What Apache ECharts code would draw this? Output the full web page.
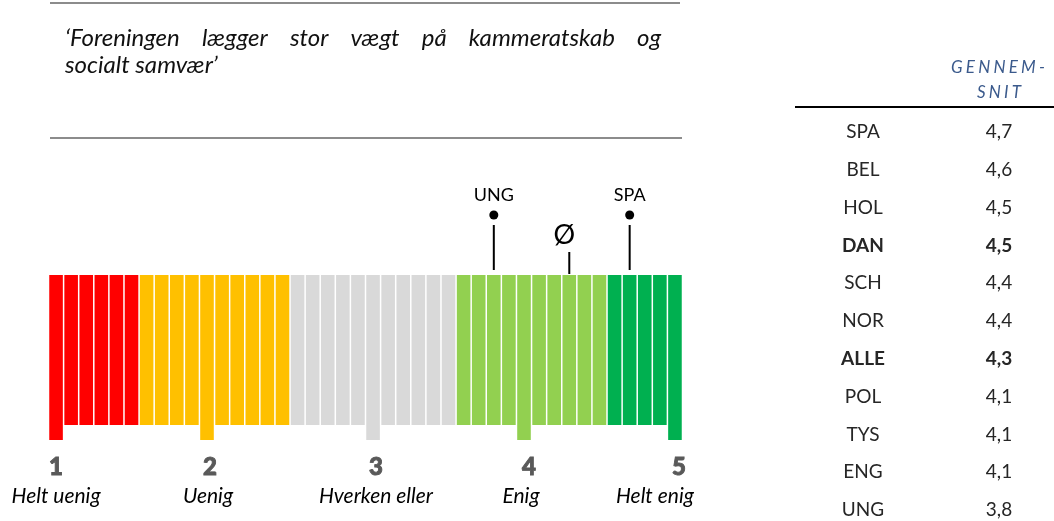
<!DOCTYPE html>
<html><head><meta charset="utf-8">
<script src="https://cdn.jsdelivr.net/npm/echarts@6/dist/echarts.min.js"></script>
<style>html,body{margin:0;padding:0;background:#fff}#c{width:1054px;height:521px}</style>
</head><body><div id="c"></div>
<script>
// ---------- data ----------
const titleLines = ['‘Foreningen lægger stor vægt på kammeratskab og', 'socialt samvær’'];
const scaleValues = [1, 2, 3, 4, 5];
const scaleLabels = ['Helt uenig', 'Uenig', 'Hverken eller', 'Enig', 'Helt enig'];
const segmentColors = ['#FF0000', '#FFC000', '#D9D9D9', '#92D050', '#00B050'];
const segmentCounts = [6, 10, 11, 10, 5];
const tickBars = [0, 10, 21, 31, 41];
const markerNames = ['UNG', 'Ø', 'SPA'];
const markerValues = [3.8, 4.3, 4.7];
const tableHeader = ['GENNEM-', 'SNIT'];
const tableCountries = ['SPA', 'BEL', 'HOL', 'DAN', 'SCH', 'NOR', 'ALLE', 'POL', 'TYS', 'ENG', 'UNG'];
const tableValues = [4.7, 4.6, 4.5, 4.5, 4.4, 4.4, 4.3, 4.1, 4.1, 4.1, 3.8];
const tableBold = ['DAN', 'ALLE'];
const barLength = 10;
const tickExtension = -1;

// ---------- helpers ----------
const FONT = 'Lato, "Open Sans", "DejaVu Sans", sans-serif';
const mctx = document.createElement('canvas').getContext('2d');
function measure(text, font) { mctx.font = font; return mctx.measureText(text).width; }
function valueToBar(v) {
  for (let k = 0; k < scaleValues.length - 1; k++) {
    if (v <= scaleValues[k + 1]) {
      const t = (v - scaleValues[k]) / (scaleValues[k + 1] - scaleValues[k]);
      return tickBars[k] + t * (tickBars[k + 1] - tickBars[k]);
    }
  }
  return tickBars[tickBars.length - 1];
}

const barColors = [];
segmentCounts.forEach((n, s) => { for (let k = 0; k < n; k++) barColors.push(segmentColors[s]); });
const nBars = barColors.length;
const categories = barColors.map((_, i) => String(i));
const mainData = barColors.map(c => ({ value: barLength, itemStyle: { color: c } }));
const extData = barColors.map((c, i) => tickBars.includes(i) ? { value: tickExtension, itemStyle: { color: c } } : '-');

// axis label rich styles with small per-label shifts
const numShift = [0, 3, 3, 5, 4];
const txtShift = [0, 1, 3, -3, -20];
function pad(s) { return s >= 0 ? [0, 0, 0, 2 * s] : [0, -2 * s, 0, 0]; }
const rich = {};
scaleValues.forEach((_, k) => {
  rich['n' + k] = { fontFamily: FONT, fontSize: 24, fontWeight: 900, color: '#595959', textBorderColor: '#595959', textBorderWidth: 0.9, lineHeight: 28, padding: pad(numShift[k]) };
  rich['t' + k] = { fontFamily: FONT, fontSize: 21, fontStyle: 'italic', color: '#000', lineHeight: 30, padding: pad(txtShift[k]) };
});

// ---------- graphics (title, rules, table) ----------
const graphics = [];
graphics.push({ type: 'line', shape: { x1: 50, y1: 3, x2: 680, y2: 3 }, style: { stroke: '#8c8c8c', lineWidth: 2 } });
graphics.push({ type: 'line', shape: { x1: 50, y1: 138, x2: 682, y2: 138 }, style: { stroke: '#8c8c8c', lineWidth: 2 } });

const titleFont = 'italic 24px ' + FONT;
(function () {
  const words = titleLines[0].split(' ');
  const widths = words.map(w => measure(w, titleFont));
  const total = widths.reduce((a, b) => a + b, 0);
  const x0 = 65, x1 = 661;
  const gap = (x1 - x0 - total) / (words.length - 1);
  let x = x0;
  words.forEach((w, i) => {
    graphics.push({ type: 'text', x: x, y: 38, style: { text: w, font: titleFont, fill: '#111', textAlign: 'left', textVerticalAlign: 'middle' } });
    x += widths[i] + gap;
  });
  graphics.push({ type: 'text', x: x0, y: 65, style: { text: titleLines[1], font: titleFont, fill: '#111', textAlign: 'left', textVerticalAlign: 'middle' } });
})();

// spaced header
const headFont = 'italic 17px ' + FONT;
function spaced(text, cx, cy, spacing) {
  const chars = text.split('');
  const ws = chars.map(c => measure(c, headFont));
  const total = ws.reduce((a, b) => a + b, 0) + spacing * (chars.length - 1);
  let x = cx - total / 2;
  chars.forEach((c, i) => {
    graphics.push({ type: 'text', x: x, y: cy, style: { text: c, font: headFont, fill: '#3B5A8C', textAlign: 'left', textVerticalAlign: 'middle' } });
    x += ws[i] + spacing;
  });
}
spaced(tableHeader[0], 998, 68, 3.2);
spaced(tableHeader[1], 999, 93, 3.2);
graphics.push({ type: 'line', shape: { x1: 795, y1: 107, x2: 1054, y2: 107 }, style: { stroke: '#000', lineWidth: 2 } });
tableCountries.forEach((c, i) => {
  const y = 132 + i * 37.8;
  const bold = tableBold.includes(c);
  const f = (bold ? 'bold ' : '') + '19px ' + FONT;
  graphics.push({ type: 'text', x: 863, y: y, style: { text: c, font: f, fill: '#262626', textAlign: 'center', textVerticalAlign: 'middle' } });
  graphics.push({ type: 'text', x: 999, y: y, style: { text: tableValues[i].toFixed(1).replace('.', ','), font: f, fill: '#262626', textAlign: 'center', textVerticalAlign: 'middle' } });
});

// ---------- chart ----------
const chart = echarts.init(document.getElementById('c'));
chart.setOption({
  animation: false,
  backgroundColor: '#fff',
  grid: { left: 48.5, width: 634, top: 170, height: 270 },
  xAxis: [
    {
      type: 'category', data: categories,
      axisLine: { show: false }, axisTick: { show: false },
      axisLabel: {
        interval: (i) => tickBars.includes(i),
        margin: 13,
        formatter: (val) => { const k = tickBars.indexOf(+val); return `{n${k}|${scaleValues[k]}}\n{t${k}|${scaleLabels[k]}}`; },
        rich: rich
      }
    },
    { type: 'value', min: -0.5, max: nBars - 0.5, show: false }
  ],
  yAxis: { type: 'value', min: -1, max: 17, show: false },
  series: [
    { type: 'bar', stack: 's', barWidth: 13.6, data: mainData, silent: true },
    { type: 'bar', stack: 's', barWidth: 13.6, data: extData, silent: true },
    {
      type: 'custom', xAxisIndex: 1, yAxisIndex: 0, silent: true,
      data: markerValues.map(v => [valueToBar(v)]),
      renderItem: (params, api) => {
        const p = api.coord([api.value(0), barLength]);
        const name = markerNames[params.dataIndex];
        if (name === 'Ø') {
          return { type: 'group', children: [
            { type: 'line', shape: { x1: p[0], y1: p[1] - 1, x2: p[0], y2: p[1] - 23 }, style: { stroke: '#000', lineWidth: 2 } },
            { type: 'text', x: p[0] - 5, y: p[1] - 40, style: { text: name, font: '27px ' + FONT, fill: '#000', textAlign: 'center', textVerticalAlign: 'middle' } }
          ] };
        }
        return { type: 'group', children: [
          { type: 'line', shape: { x1: p[0], y1: p[1] - 5, x2: p[0], y2: p[1] - 50 }, style: { stroke: '#000', lineWidth: 2 } },
          { type: 'circle', shape: { cx: p[0], cy: p[1] - 60, r: 4.5 }, style: { fill: '#000' } },
          { type: 'text', x: p[0], y: p[1] - 80, style: { text: name, font: '18px ' + FONT, fill: '#000', textAlign: 'center', textVerticalAlign: 'middle' } }
        ] };
      }
    }
  ],
  graphic: graphics
});
</script></body></html>
